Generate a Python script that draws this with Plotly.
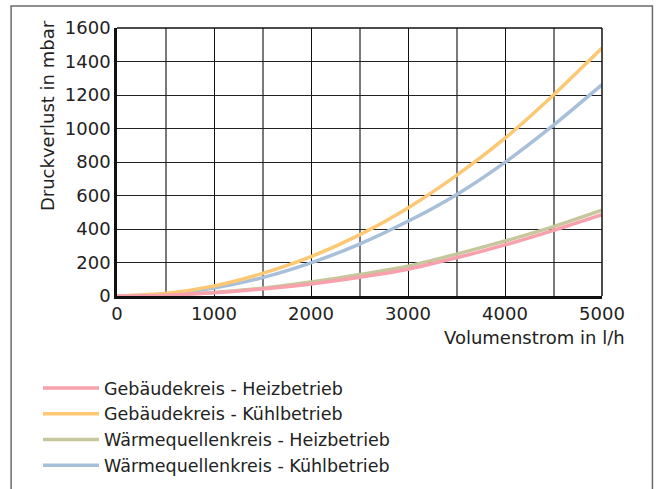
import plotly.graph_objects as go

flow = [0, 500, 1000, 1500, 2000, 2500, 3000, 3500, 4000, 4500, 5000]
geb_heiz = [0, 5, 19, 42, 72, 112, 160, 228, 305, 392, 486]
geb_kuehl = [0, 15, 60, 135, 235, 365, 526, 720, 942, 1200, 1480]
wq_heiz = [0, 5, 21, 47, 83, 128, 178, 250, 328, 414, 512]
wq_kuehl = [0, 12, 48, 110, 198, 310, 446, 605, 798, 1020, 1262]

names = ["Gebäudekreis - Heizbetrieb", "Gebäudekreis - Kühlbetrieb",
         "Wärmequellenkreis - Heizbetrieb", "Wärmequellenkreis - Kühlbetrieb"]
series = [geb_heiz, geb_kuehl, wq_heiz, wq_kuehl]
colors = ["#f8a0ab", "#fdc874", "#c6c79c", "#a8bfda"]

FONT = "DejaVu Sans"
TXT = "#222222"

fig = go.Figure()
order = [2, 3, 1, 0]
for i in order:
    fig.add_trace(go.Scatter(x=flow, y=series[i], name=names[i], mode="lines",
                             line=dict(color=colors[i], width=3.5, shape="spline", smoothing=0.6),
                             legendrank=i + 1))

fig.update_layout(
    width=656, height=489,
    margin=dict(l=117, r=53.5, t=28, b=193, autoexpand=False),
    paper_bgcolor="white", plot_bgcolor="white",
    font=dict(family=FONT, color=TXT, size=17),
    showlegend=True,
    legend=dict(x=38 / 656, xref="container", y=1 - 370 / 489, yref="container",
                xanchor="left", yanchor="top",
                font=dict(size=17.5, family=FONT, color=TXT), itemwidth=56,
                tracegroupgap=0, bgcolor="rgba(0,0,0,0)", traceorder="normal"),
    xaxis=dict(range=[0, 5000], dtick=1000, tick0=0, showgrid=True, gridcolor="#111111", gridwidth=1.4,
               minor=dict(dtick=500, showgrid=True, gridcolor="#7a7a7a", gridwidth=1.8),
               showline=True, linecolor="#111111", linewidth=2.5, ticks="", zeroline=False,
               tickfont=dict(size=18, family=FONT, color=TXT)),
    yaxis=dict(range=[0, 1600], dtick=200, tick0=0, showgrid=True, gridcolor="#222222", gridwidth=1.4,
               showline=True, linecolor="#111111", linewidth=2.5, ticks="", zeroline=False,
               tickfont=dict(size=18, family=FONT, color=TXT)),
)

fig.add_shape(type="rect", xref="paper", yref="paper",
              x0=(11 - 117) / 485.5, x1=(653 - 117) / 485.5,
              y0=(296 - 492) / 268, y1=(296 - 6) / 268,
              line=dict(color="#6b6b6b", width=1.5), layer="below")
fig.add_shape(type="line", xref="paper", yref="paper", x0=0, x1=1, y0=1, y1=1,
              line=dict(color="#111111", width=1.5))
fig.add_shape(type="line", xref="paper", yref="paper", x0=1, x1=1, y0=0, y1=1,
              line=dict(color="#111111", width=1.5))

fig.add_annotation(text="Volumenstrom in l/h", xref="paper", yref="paper",
                   x=(628 - 117) / 485.5, y=(296 - 337) / 268, xanchor="right", yanchor="middle",
                   showarrow=False, font=dict(size=18, family=FONT, color=TXT))
fig.add_annotation(text="Druckverlust in mbar", xref="paper", yref="paper",
                   x=(48 - 117) / 485.5, y=(296 - 116) / 268, xanchor="center", yanchor="middle",
                   textangle=-90, showarrow=False, font=dict(size=18, family=FONT, color=TXT))

fig.write_html("out.html", config={"displayModeBar": False},
               post_script="document.body.style.margin='0px';")
